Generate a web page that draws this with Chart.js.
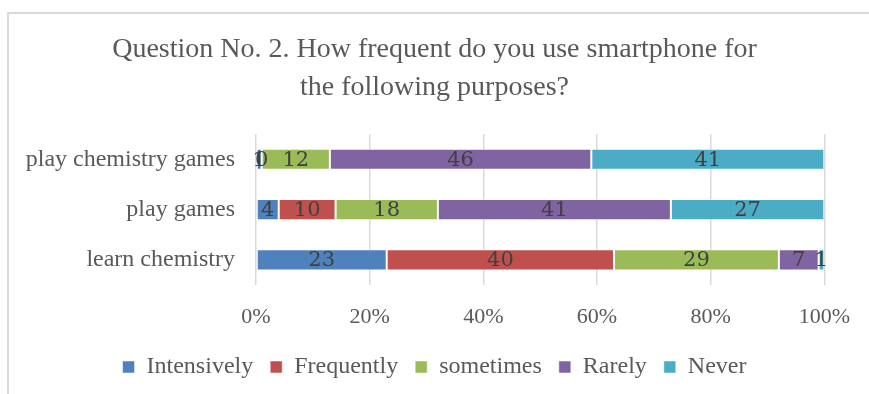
<!DOCTYPE html>
<html>
<head>
<meta charset="utf-8">
<script src="https://cdn.jsdelivr.net/npm/chart.js@4/dist/chart.umd.min.js"></script>
<style>
  html, body { margin: 0; padding: 0; background: #fff; }
  #wrap { position: relative; width: 869px; height: 394px; overflow: hidden; }
  #frame { position: absolute; left: 7px; top: 12px; width: 900px; height: 420px;
           border-top: 2px solid #d9d9d9; border-left: 2px solid #d9d9d9; }
  #grafico { position: absolute; left: 0; top: 0; }
</style>
</head>
<body>
<div id="wrap">
  <div id="frame"></div>
  <canvas id="grafico" width="869" height="394"></canvas>
</div>
<script>
// purposes, top to bottom
const purposes = ["play chemistry games", "play games", "learn chemistry"];
const answers = ["Intensively", "Frequently", "sometimes", "Rarely", "Never"];
const colors = ["#4F81BD", "#C0504D", "#9BBB59", "#8064A2", "#4BACC6"];

// answers per purpose (same order as purposes)
const intensively = [1, 4, 23];
const frequently = [0, 10, 40];
const sometimes = [12, 18, 29];
const rarely = [46, 41, 7];
const never = [41, 27, 1];

const series = [intensively, frequently, sometimes, rarely, never];
const serif = "'Liberation Serif', 'Times New Roman', serif";

// writes each value in the middle of its segment
const valueLabels = {
  id: "valueLabels",
  afterDatasetsDraw(chart) {
    const ctx = chart.ctx;
    ctx.save();
    ctx.font = "21px 'DejaVu Serif', serif";
    ctx.fillStyle = "#404040";
    ctx.textAlign = "center";
    ctx.textBaseline = "middle";
    chart.data.datasets.forEach((ds, i) => {
      chart.getDatasetMeta(i).data.forEach((bar, j) => {
        const x = (bar.x + bar.base) / 2;
        ctx.fillText(ds.data[j], x, bar.y + 1);
      });
    });
    ctx.restore();
  }
};

const datasets = answers.map((a, i) => ({
  label: a,
  data: series[i],
  backgroundColor: colors[i],
  borderColor: "rgba(255,255,255,0.5)",
  borderWidth: 1,
  borderSkipped: false,
  categoryPercentage: 1,
  barPercentage: 0.42,
  yAxisID: "y"
}));

let chart = new Chart(document.getElementById("grafico"), {
  type: "bar",
  data: { labels: purposes, datasets: datasets },
  plugins: [valueLabels],
  options: {
    indexAxis: "y",
    responsive: false,
    animation: false,
    layout: { padding: { left: 0, right: 0, top: 31, bottom: 5 } },
    scales: {
      x: {
        stacked: true,
        min: 0,
        max: 100,
        afterFit: s => { s.height = 53; },
        ticks: {
          stepSize: 20,
          callback: v => v + "%",
          color: "#595959",
          font: { family: serif, size: 22 },
          padding: 19
        },
        grid: { color: "#d9d9d9", lineWidth: 1.5, drawTicks: false },
        border: { display: false }
      },
      y: {
        stacked: true,
        afterFit: s => { s.width = 256; },
        ticks: {
          color: "#595959",
          font: { family: serif, size: 24 },
          padding: 21
        },
        grid: { display: false, drawTicks: false },
        border: { display: false }
      },
      // empty strip on the right so the plot stops short of the edge
      yRight: {
        type: "category",
        position: "right",
        afterFit: s => { s.width = 43; },
        ticks: { display: false },
        grid: { display: false, drawTicks: false },
        border: { display: false }
      }
    },
    plugins: {
      title: {
        display: true,
        text: ["Question No. 2. How frequent do you use smartphone for", "the following purposes?"],
        color: "#595959",
        font: { family: serif, size: 28, weight: "normal", lineHeight: 1.36 },
        padding: { top: 0, bottom: 27 }
      },
      legend: {
        position: "bottom",
        labels: {
          color: "#595959",
          font: { family: serif, size: 24 },
          boxWidth: 12,
          boxHeight: 12,
          padding: 17
        }
      },
      tooltip: { enabled: false }
    }
  }
});
</script>
</body>
</html>
